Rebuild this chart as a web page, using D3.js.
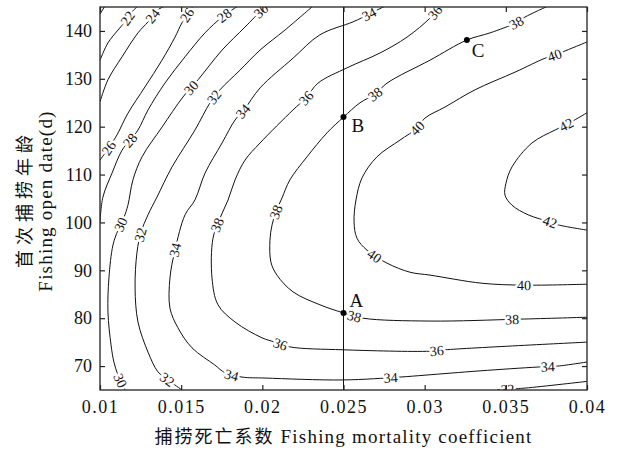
<!DOCTYPE html>
<html><head><meta charset="utf-8">
<script src="https://cdn.jsdelivr.net/npm/d3@7"></script>
<style>body{margin:0;background:#fff}svg{display:block}.sf{font-family:"Liberation Serif","DejaVu Serif",serif}.cj{font-family:"Noto Sans CJK SC","Noto Sans CJK JP",sans-serif}</style>
</head><body><svg id="chart" width="618" height="450"></svg>
<script>
// ---------- data ----------
const xTicks = [0.01, 0.015, 0.02, 0.025, 0.03, 0.035, 0.04];
const xTickLabels = ["0.01", "0.015", "0.02", "0.025", "0.03", "0.035", "0.04"];
const yTicks = [70, 80, 90, 100, 110, 120, 130, 140];
const yTickLabels = ["70", "80", "90", "100", "110", "120", "130", "140"];
const xTitleCn = "捕捞死亡系数";
const xTitleEn = "Fishing mortality coefficient";
const yTitleCn = "首次捕捞年龄";
const yTitleEn = "Fishing open date(d)";

// contour lines: [fishing mortality F, open date t]
const contour20 = [[0.0100,143.5],[0.0103,145.2]];
const contour22 = [[0.0100,133.9],[0.01049,137.5],[0.01111,140.2],[0.01154,141.9],[0.01197,144.0],[0.01234,145.2]];
const contour24 = [[0.0100,125.2],[0.01049,129.8],[0.01136,134.6],[0.01234,139.6],[0.01296,141.9],[0.01357,144.4],[0.0140,145.2]];
const contour26 = [[0.0100,113.0],[0.01062,116.0],[0.01105,118.3],[0.01172,122.8],[0.01277,128.3],[0.01382,133.9],[0.01462,138.7],[0.01505,141.7],[0.01573,145.2]];
const contour28 = [[0.0100,100.1],[0.01018,105.3],[0.01074,110.3],[0.01136,115.1],[0.01185,117.2],[0.01234,119.3],[0.01296,123.5],[0.0140,129.1],[0.01524,134.6],[0.01647,139.6],[0.01752,142.9],[0.0185,145.2]];
const contour30 = [[0.01154,65.0],[0.01111,68.1],[0.01086,70.8],[0.01068,74.4],[0.01049,81.3],[0.01055,88.4],[0.0108,95.3],[0.01111,98.4],[0.01148,101.1],[0.01172,103.6],[0.01203,108.9],[0.01259,113.7],[0.01382,119.9],[0.01511,126.2],[0.01604,129.8],[0.01752,136.0],[0.01893,140.8],[0.01998,144.4],[0.02029,145.2]];
const contour32 = [[0.01505,65.0],[0.01419,67.1],[0.01357,68.8],[0.01296,72.9],[0.01234,79.2],[0.01216,86.3],[0.01228,93.8],[0.01253,98.0],[0.01296,101.6],[0.01351,105.3],[0.01444,111.6],[0.01585,119.3],[0.01678,125.0],[0.01739,127.7],[0.01862,131.8],[0.01986,136.0],[0.0214,140.2],[0.02312,145.2]];
const contour32b = [[0.03446,65.0],[0.03618,65.4],[0.0400,66.8]];
const contour34 = [[0.0400,70.85],[0.03821,70.0],[0.03698,69.8],[0.03341,69.0],[0.03002,68.1],[0.02848,67.7],[0.02497,67.1],[0.02016,67.5],[0.01875,67.7],[0.0177,68.6],[0.01708,70.2],[0.01567,73.8],[0.0148,78.0],[0.01431,82.1],[0.01431,88.4],[0.01462,94.2],[0.01524,101.6],[0.01585,104.7],[0.01647,110.3],[0.01752,116.6],[0.01832,121.4],[0.01887,123.5],[0.01986,128.1],[0.02189,134.3],[0.02355,139.2],[0.02559,141.9],[0.02657,143.5],[0.02756,145.2]];
const contour36 = [[0.0400,75.0],[0.03125,73.4],[0.03033,73.1],[0.02497,73.4],[0.0217,74.0],[0.02078,75.0],[0.01998,75.9],[0.01832,79.2],[0.01727,82.8],[0.0169,88.4],[0.01696,96.7],[0.01739,100.9],[0.01789,104.7],[0.01832,108.9],[0.01893,113.0],[0.01986,116.6],[0.02189,123.5],[0.02269,126.0],[0.02343,129.1],[0.02522,132.3],[0.02725,135.4],[0.02891,138.7],[0.03033,142.7],[0.03095,145.2]];
const contour38 = [[0.0400,80.2],[0.03587,79.8],[0.03033,79.4],[0.0262,80.0],[0.025,81.1],[0.02355,82.8],[0.02189,85.5],[0.0209,89.0],[0.02053,91.7],[0.02047,96.3],[0.0206,99.5],[0.02084,102.2],[0.02121,105.1],[0.0217,108.9],[0.02275,113.7],[0.02398,118.7],[0.025,122.0],[0.02602,125.0],[0.02694,126.8],[0.02768,129.1],[0.03033,133.9],[0.0326,138.1],[0.03403,139.6],[0.03563,141.7],[0.03618,142.9],[0.0376,145.2]];
const contour40 = [[0.0400,137.7],[0.03803,135.0],[0.03741,134.3],[0.03557,131.4],[0.0331,127.7],[0.03125,124.1],[0.03002,121.8],[0.02953,119.7],[0.02848,117.2],[0.02706,113.7],[0.02614,109.3],[0.02577,104.7],[0.02565,100.1],[0.02583,96.7],[0.02645,94.2],[0.02768,91.5],[0.0291,89.6],[0.03033,89.0],[0.03353,87.3],[0.03612,86.9],[0.0400,87.1]];
const contour42 = [[0.0400,122.9],[0.03871,120.4],[0.03803,119.3],[0.03661,116.6],[0.03538,111.6],[0.03501,108.2],[0.03495,105.7],[0.03538,103.6],[0.03637,101.6],[0.03772,100.1],[0.03821,99.5],[0.0400,98.4]];

const contourLevels = [20, 22, 24, 26, 28, 30, 32, 32, 34, 36, 38, 40, 42];
const contourPoints = [contour20, contour22, contour24, contour26, contour28, contour30, contour32, contour32b, contour34, contour36, contour38, contour40, contour42];

// contour labels (level of the line they sit on, text shown, approximate position)
const labelLevel = [22,24,26,26,28,28,30,30,30,30,32,32,32,32,34,34,34,34,34,34,36,36,36,36,36,38,38,38,38,38,40,40,40,40,42,42];
const labelText  = ["22","24","26","26","28","28","30","30","30","30","32","32","32","32","34","34","34","34","34","34","38","36","36","36","36","38","38","38","38","38","40","40","40","40","42","42"];
const labelF = [0.01185,0.01333,0.01037,0.01536,0.01185,0.01764,0.01136,0.01561,0.01123,0.01998,0.01407,0.01271,0.01702,0.0351,0.01474,0.01887,0.02657,0.01813,0.02793,0.0376,0.01739,0.02109,0.03076,0.02269,0.03076,0.02084,0.02694,0.03563,0.02565,0.03538,0.03803,0.02953,0.02694,0.03612,0.03871,0.03772];
const labelT = [142.3,142.9,116.0,143.3,117.2,143.3,99.5,128.1,66.9,144.0,66.9,97.2,126.2,65.6,94.2,123.1,143.5,68.3,67.1,69.4,99.2,74.4,72.9,126.0,143.5,102.2,126.8,141.7,80.0,79.4,134.7,119.7,93.2,86.7,120.4,100.1];

// marked points
const pointNames = ["A", "B", "C"];
const pointF = [0.025, 0.025, 0.0326];
const pointT = [81.1, 122.0, 138.1];
const refLineF = 0.025;

// ---------- drawing ----------
const svg = d3.select("#chart");
const L = 100, R = 587, T = 7, B = 390;
const x = d3.scaleLinear().domain([0.01, 0.04]).range([L, R]);
const y = d3.scaleLinear().domain([65, 145]).range([B, T]);

svg.append("rect").attr("width", 618).attr("height", 450).attr("fill", "#fff");
svg.append("defs").append("clipPath").attr("id", "plotclip")
  .append("rect").attr("x", L).attr("y", T).attr("width", R - L).attr("height", B - T);

const plot = svg.append("g").attr("clip-path", "url(#plotclip)");

const line = d3.line().x(d => x(d[0])).y(d => y(d[1])).curve(d3.curveCatmullRom.alpha(0.5));

const paths = contourPoints.map((pts, i) =>
  plot.append("path").attr("d", line(pts)).attr("fill", "none")
    .attr("stroke", "#111").attr("stroke-width", 1).attr("data-level", contourLevels[i]).node());

// labels placed on the drawn curve, rotated along it
labelText.forEach((txt, i) => {
  const px = x(labelF[i]), py = y(labelT[i]);
  let best = null;
  paths.forEach((p, k) => {
    if (contourLevels[k] !== labelLevel[i]) return;
    const len = p.getTotalLength();
    for (let l = 0; l <= len; l += 0.5) {
      const q = p.getPointAtLength(l);
      const d = (q.x - px) ** 2 + (q.y - py) ** 2;
      if (!best || d < best.d) best = { d, l, p, len, q };
    }
  });
  let cx = px, cy = py, ang = 0;
  if (best) {
    const a = best.p.getPointAtLength(Math.max(0, best.l - 7));
    const b = best.p.getPointAtLength(Math.min(best.len, best.l + 7));
    ang = Math.atan2(b.y - a.y, b.x - a.x) * 180 / Math.PI;
    if (ang > 90) ang -= 180;
    if (ang <= -90) ang += 180;
    if (best.d < 100) { cx = best.q.x; cy = best.q.y; }
  }
  plot.append("text").attr("class", "sf")
    .attr("transform", `translate(${cx},${cy}) rotate(${ang})`)
    .attr("text-anchor", "middle").attr("dy", "0.35em")
    .attr("font-size", 14)
    .attr("fill", "#111").attr("stroke", "#fff").attr("stroke-width", 5)
    .attr("paint-order", "stroke").attr("stroke-linejoin", "round")
    .text(txt);
});

// vertical reference line
plot.append("line").attr("x1", x(refLineF)).attr("x2", x(refLineF))
  .attr("y1", B).attr("y2", T).attr("stroke", "#111").attr("stroke-width", 1);

// points and letters
const letterDx = [6, 8, 5], letterDy = [-6, 15, 17];
pointNames.forEach((n, i) => {
  svg.append("circle").attr("cx", x(pointF[i])).attr("cy", y(pointT[i])).attr("r", 3).attr("fill", "#000");
  svg.append("text").attr("class", "sf").attr("x", x(pointF[i]) + letterDx[i]).attr("y", y(pointT[i]) + letterDy[i])
    .attr("font-size", 19).attr("fill", "#111").text(n);
});

// axes with inward ticks on all four sides
const axG = svg.append("g");
const axBottom = axG.append("g").attr("transform", `translate(0,${B})`)
  .call(d3.axisBottom(x).tickValues(xTicks).tickFormat((d, i) => xTickLabels[i]).tickSizeInner(-5).tickSizeOuter(0).tickPadding(10));
axG.append("g").attr("transform", `translate(0,${T})`)
  .call(d3.axisTop(x).tickValues(xTicks).tickFormat("").tickSizeInner(-5).tickSizeOuter(0));
axG.append("g").attr("transform", `translate(${L},0)`)
  .call(d3.axisLeft(y).tickValues(yTicks).tickFormat((d, i) => yTickLabels[i]).tickSizeInner(-5).tickSizeOuter(0).tickPadding(8));
axG.append("g").attr("transform", `translate(${R},0)`)
  .call(d3.axisRight(y).tickValues(yTicks).tickFormat("").tickSizeInner(-5).tickSizeOuter(0));
axG.selectAll(".domain").remove();
axG.selectAll("g").attr("font-family", null);
axG.selectAll(".tick line").attr("stroke", "#222").attr("stroke-width", 1.2);
axG.selectAll(".tick text").attr("class", "sf").attr("font-size", 18).attr("fill", "#111");
axBottom.selectAll(".tick text").attr("letter-spacing", "1.5px");
axG.append("rect").attr("x", L).attr("y", T).attr("width", R - L).attr("height", B - T)
  .attr("fill", "none").attr("stroke", "#222").attr("stroke-width", 1.3);

// axis titles
const xt = svg.append("text").attr("x", (L + R) / 2).attr("y", 443).attr("text-anchor", "middle").attr("fill", "#111");
xt.append("tspan").attr("class", "cj").attr("font-size", 18).attr("letter-spacing", "2px").text(xTitleCn + " ");
xt.append("tspan").attr("class", "sf").attr("font-size", 19).attr("letter-spacing", "1.2px").text(xTitleEn);

svg.append("text").attr("class", "cj").attr("transform", "translate(31,199) rotate(-90)").attr("text-anchor", "middle")
  .attr("font-size", 18).attr("letter-spacing", "5px").attr("fill", "#111").text(yTitleCn);
svg.append("text").attr("class", "sf").attr("transform", "translate(52,201) rotate(-90)").attr("text-anchor", "middle")
  .attr("font-size", 19).attr("letter-spacing", "1.2px").attr("fill", "#111").text(yTitleEn);
</script>
</body></html>
